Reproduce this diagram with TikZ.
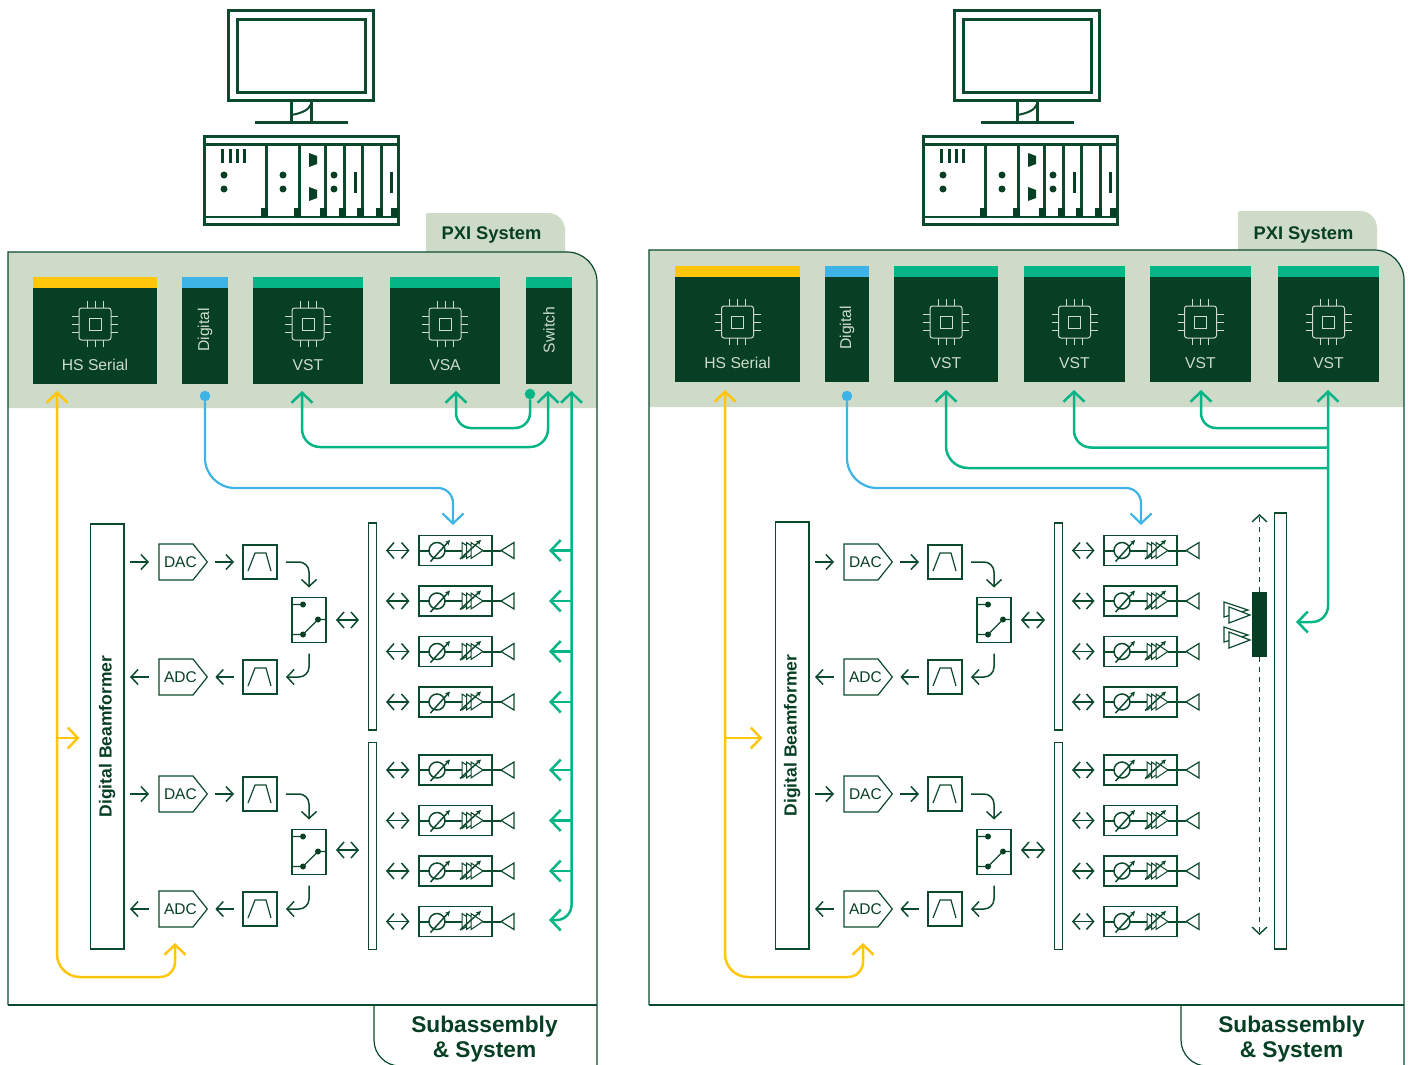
\documentclass[tikz,border=0pt]{standalone}
\usepackage{fontspec}
\setmainfont{Liberation Sans}
\usetikzlibrary{arrows.meta,calc,shapes.symbols}
\definecolor{pineDark}{HTML}{063F23}
\definecolor{pineLine}{HTML}{0B4A2C}
\definecolor{bandGreen}{HTML}{CEDBC9}
\definecolor{busGreen}{HTML}{05B586}
\definecolor{busBlue}{HTML}{3DB3E6}
\definecolor{busYellow}{HTML}{FFC60B}
\newcommand{\pentlabel}[1]{\makebox[34pt][l]{\hspace{5pt}#1}}
\tikzset{
  chipicon/.pic={
    \draw[bandGreen,line width=1pt,rounded corners=2.5pt] (-16,-16) rectangle (16,16);
    \draw[bandGreen,line width=1pt] (-6,-6) rectangle (6,6);
    \foreach \s in {-8,0,8}{
      \draw[bandGreen,line width=1pt] (\s,-23) -- (\s,-16) (\s,16) -- (\s,23) (-23,\s) -- (-16,\s) (16,\s) -- (23,\s);
    }
  },
  monitoricon/.pic={
    \draw[pineLine,line width=3pt] (228.5,10.5) rectangle (373.5,100.5);
    \draw[pineLine,line width=3pt] (237.5,19.5) rectangle (365.5,92.5);
    \draw[pineLine,line width=3pt] (291.5,102) -- (291.5,122) (311,102) -- (311,122);
    \draw[pineLine,line width=2pt] (291.5,115) .. controls (302,113) and (309,110) .. (311,104);
    \draw[pineLine,line width=3pt] (255,122.5) -- (348,122.5);
  },
  rackicon/.pic={
    \draw[pineLine,line width=2.5pt] (204.5,136.5) rectangle (398.5,224.5);
    \draw[pineLine,line width=2.5pt] (205,144.5) -- (398,144.5) (205,217) -- (398,217);
    \foreach \x in {266,299,325,344,362,381}{
      \draw[pineLine,line width=3pt] (\x,144) -- (\x,217);
    }
    \foreach \x in {266,299,325,344,362,381,396.5}{
      \fill[pineDark] (\x-5.5,208) rectangle (\x+1.5,217);
    }
    \foreach \x in {222,230,237,244}{
      \fill[pineDark] (\x-1.5,149) rectangle (\x+1.5,163);
    }
    \foreach \x in {224,283,334}{
      \fill[pineDark] (\x,175) circle (3.5pt) (\x,189) circle (3.5pt);
    }
    \foreach \x in {355,391}{
      \fill[pineDark] (\x-1.5,172) rectangle (\x+1.5,193);
    }
    \foreach \y in {153,187}{
      \fill[pineDark] (309,\y) -- (317,\y+3) -- (317,\y+11) -- (309,\y+14) -- cycle;
    }
  },
  bandpass/.pic={
    \draw[pineLine,line width=1.2pt] (-12,9) -- (-5,-9) -- (6,-9) -- (11,9);
  },
  switchicon/.pic={
    \draw[pineLine,line width=1.2pt] (-17,-15.5) -- (-6,-15.5) (-17,14.5) -- (-6,14.5) -- (9,-0.5) -- (17,-0.5);
    \fill[pineDark] (-6,-15.5) circle (3pt) (-6,14.5) circle (3pt) (9,-0.5) circle (3pt);
  },
  phasechain/.pic={
    \draw[pineLine,line width=2pt] (-36.5,0) -- (-26.5,0) (-10.5,0) -- (7,0) (27.5,0) -- (45.5,0);
    \draw[pineLine,line width=1.5pt] (-18.5,0) circle (8pt);
    \foreach \s in {6.5,11,15.5}{
      \draw[pineLine,line width=1pt,fill=white] (\s,-8) -- (\s+12,0) -- (\s,8) -- cycle;
    }
    \draw[pineLine,line width=1.5pt,-{Stealth[length=5pt,width=5pt]}] (-25,11) -- (-5.5,-10.5);
    \draw[pineLine,line width=1.5pt,-{Stealth[length=5pt,width=5pt]}] (4.5,8.5) -- (25.5,-10.5);
    \draw[pineLine,line width=1.2pt] (45.5,0) -- (58.5,-8) -- (58.5,8) -- cycle;
  },
  hornpair/.pic={
    \draw[pineLine,line width=1.2pt,fill=white] (-5,-5) -- (-5,10) -- (19,3) -- cycle;
    \draw[pineLine,line width=1.2pt,fill=white] (0,0) -- (0,16) -- (21,8) -- cycle;
  }
}
\begin{document}
\begin{tikzpicture}[x=1pt,y=-1pt,
    every node/.style={inner sep=0pt,outer sep=0pt,text=pineDark},
    modbox/.style={fill=pineDark},
    headbox/.style={minimum height=11pt},
    modtext/.style={text=bandGreen,font=\fontsize{15.7}{18}\selectfont},
    tabtext/.style={font=\fontsize{18.3}{20}\selectfont\bfseries},
    subtext/.style={align=center,font=\fontsize{22.7}{25}\selectfont\bfseries},
    bfbox/.style={draw=pineLine,line width=1.2pt,minimum width=33.5pt},
    bftext/.style={rotate=90,font=\fontsize{17.5}{18}\selectfont\bfseries},
    pentbox/.style={draw=pineLine,line width=1.2pt,signal,signal to=east,signal pointer angle=103,minimum height=36pt,font=\fontsize{15.5}{18}\selectfont},
    fltbox/.style={draw=pineLine,line width=1.5pt,minimum width=34pt,minimum height=34pt},
    swbox/.style={draw=pineLine,line width=1.2pt,minimum width=34pt,minimum height=45pt},
    barbox/.style={draw=pineLine,line width=1.2pt,minimum width=8pt},
    rowbox/.style={draw=pineLine,line width=1.2pt,minimum width=73pt,minimum height=30pt},
    busdot/.style={circle,minimum size=10.5pt},
    sigline/.style={pineLine,line width=1.5pt,>={Straight Barb[length=7pt,width=15pt]}},
    dblline/.style={pineLine,line width=1.5pt,<->,>={Straight Barb[length=7pt,width=16pt]}},
    greenbus/.style={busGreen,line width=2.5pt,>={Straight Barb[length=10pt,width=21pt]}},
    bluebus/.style={busBlue,line width=2.2pt,>={Straight Barb[length=10pt,width=21pt]}},
    yellowbus/.style={busYellow,line width=2.5pt,>={Straight Barb[length=10pt,width=21pt]}}]
  \useasboundingbox (0,0) rectangle (1408,1065);

  \pic at (0,0) {monitoricon};
  \pic at (0,0) {rackicon};
  \pic at (726,0) {monitoricon};
  \pic at (719,0) {rackicon};

  \fill[bandGreen] (8,408) -- (8,252) [rounded corners=30pt] -- (597,252) [sharp corners] -- (597,408) -- cycle;
  \fill[bandGreen] (649,407) -- (649,250) [rounded corners=30pt] -- (1404,250) [sharp corners] -- (1404,407) -- cycle;
  \fill[bandGreen] (426,252) [rounded corners=2pt] -- (426,213) [rounded corners=17pt] -- (565,213) [sharp corners] -- (565,252) -- cycle;
  \fill[bandGreen] (1238,250) [rounded corners=2pt] -- (1238,211) [rounded corners=17pt] -- (1377,211) [sharp corners] -- (1377,250) -- cycle;
  \draw[pineLine,line width=1.2pt] (8,1005) -- (8,252) [rounded corners=30pt] -- (597,252) [sharp corners] -- (597,1065);
  \draw[pineLine,line width=1.2pt] (649,1005) -- (649,250) [rounded corners=30pt] -- (1404,250) [sharp corners] -- (1404,1065);
  \draw[pineLine,line width=1.2pt] (8,1005) -- (597,1005) (649,1005) -- (1404,1005);
  \draw[pineLine,line width=1.2pt] (374,1005) [rounded corners=26pt] -- (374,1066) -- (400,1066);
  \draw[pineLine,line width=1.2pt] (1181,1005) [rounded corners=26pt] -- (1181,1066) -- (1207,1066);
  \node[tabtext] (tabL) at (491.5,235) {PXI System};
  \node[tabtext] (tabR) at (1303.5,235) {PXI System};
  \node[subtext] (subL) at (484.5,1039) {Subassembly\\\& System};
  \node[subtext] (subR) at (1291.5,1039) {Subassembly\\\& System};

  \foreach \nm/\cx/\wid/\col/\lab/\by/\hgt in {%
    hsL/95/124/busYellow/HS Serial/288/96,
    vstL/308/110/busGreen/VST/288/96,
    vsaL/445/110/busGreen/VSA/288/96,
    hsR/737.5/125/busYellow/HS Serial/277/105,
    vstA/946/104/busGreen/VST/277/105,
    vstB/1074.5/101/busGreen/VST/277/105,
    vstC/1200.5/101/busGreen/VST/277/105,
    vstD/1328.5/101/busGreen/VST/277/105}{%
    \node[modbox,minimum width=\wid,minimum height=\hgt,anchor=north] (\nm) at (\cx,\by) {};
    \node[headbox,fill=\col,minimum width=\wid,anchor=south] (\nm-head) at (\nm.north) {};
    \pic at ($(\nm.south)+(0,-60)$) {chipicon};
    \node[modtext] (\nm-text) at ($(\nm.south)+(0,-19)$) {\lab};
  }
  \foreach \nm/\cx/\wid/\col/\lab/\by/\hgt in {%
    digL/205/46/busBlue/Digital/288/96,
    swiL/549/46/busGreen/Switch/288/96,
    digR/847/44/busBlue/Digital/277/105}{%
    \node[modbox,minimum width=\wid,minimum height=\hgt,anchor=north] (\nm) at (\cx,\by) {};
    \node[headbox,fill=\col,minimum width=\wid,anchor=south] (\nm-head) at (\nm.north) {};
    \node[modtext,rotate=90] (\nm-text) at ($(\nm.south)+(0,-54)$) {\lab};
  }

  \foreach \p/\dx/\bfc/\bfh/\bx in {L/0/736.5/425/0,R/685/735.5/427/1}{
    \begin{scope}[shift={(\dx,0)}]
      \node[bfbox,minimum height=\bfh] (bf\p) at (107.25,\bfc) {};
      \node[bftext] (bfText\p) at (bf\p) {Digital Beamformer};
      \foreach \blk/\sy/\ry/\ay in {A/0/0/620,B/232/219.5/850}{
        \node[pentbox,anchor=west] (dac\blk\p) at (159,562+\sy) {\pentlabel{DAC}};
        \node[pentbox,anchor=west] (adc\blk\p) at (159,677+\sy) {\pentlabel{ADC}};
        \node[fltbox] (fltT\blk\p) at (260,562+\sy) {};
        \node[fltbox] (fltB\blk\p) at (260,677+\sy) {};
        \pic at (fltT\blk\p) {bandpass};
        \pic at (fltB\blk\p) {bandpass};
        \node[swbox] (sw\blk\p) at (309,620+\sy) {};
        \pic at (sw\blk\p) {switchicon};
        \node[barbox,minimum height=207pt] (bar\blk\p) at (372.5+\bx,626.5+\ry) {};
        \coordinate (swPort\blk\p) at (326,\ay);
        \draw[sigline,->,shorten <=6pt,shorten >=10pt] (bf\p.east |- dac\blk\p.west) -- (dac\blk\p.west);
        \draw[sigline,->,shorten <=8pt,shorten >=9pt] (dac\blk\p.east) -- (fltT\blk\p.west);
        \draw[sigline,->,shorten <=10pt,shorten >=6pt] (adc\blk\p.west) -- (bf\p.east |- adc\blk\p.west);
        \draw[sigline,->,shorten <=9pt,shorten >=8pt] (fltB\blk\p.west) -- (adc\blk\p.east);
        \draw[sigline,->,rounded corners=10pt,shorten <=9pt,shorten >=10pt] (fltT\blk\p.east) -| (sw\blk\p.north);
        \draw[sigline,->,rounded corners=10pt,shorten <=11pt,shorten >=9pt] (sw\blk\p.south) |- (fltB\blk\p.east);
        \draw[dblline,shorten <=10pt,shorten >=9.5pt] (swPort\blk\p) -- (swPort\blk\p -| bar\blk\p.west);
        \foreach \n/\y in {1/550.5,2/601,3/651.5,4/702}{
          \node[rowbox] (row\n\blk\p) at (455.5,\y+\ry) {};
          \pic at (row\n\blk\p) {phasechain};
          \draw[dblline,shorten <=9.5pt,shorten >=9.5pt] (bar\blk\p.east |- row\n\blk\p.west) -- (row\n\blk\p.west);
        }
      }
    \end{scope}
  }

  \node[busdot,fill=busBlue] (digOutL) at (205,396) {};
  \node[busdot,fill=busBlue] (digOutR) at (847,396) {};
  \coordinate (bfTipL) at (453,525);
  \coordinate (bfTipR) at (1141,525);
  \draw[bluebus,->] (digOutL) [rounded corners=30pt] -- ++(0,92) [rounded corners=15pt] -| (bfTipL);
  \draw[bluebus,->] (digOutR) [rounded corners=30pt] -- ++(0,92) [rounded corners=15pt] -| (bfTipR);

  \coordinate (hsTipL) at (57,391);
  \coordinate (hsTipR) at (725,390);
  \coordinate (adcTipL) at (175,943);
  \coordinate (adcTipR) at (863,943);
  \coordinate (hsTapL) at (57,738);
  \coordinate (hsTapR) at (725,738);
  \draw[yellowbus,<->] (hsTipL) [rounded corners=23pt] -- ++(0,586) [rounded corners=15pt] -| (adcTipL);
  \draw[yellowbus,<->] (hsTipR) [rounded corners=23pt] -- ++(0,587) [rounded corners=15pt] -| (adcTipR);
  \draw[yellowbus,->,shorten >=11pt] (hsTapL) -- (hsTapL -| bfL.west);
  \draw[yellowbus,->,shorten >=13pt] (hsTapR) -- (hsTapR -| bfR.west);

  \coordinate (vsaTip) at (456,391);
  \coordinate (vstTip) at (302,391);
  \coordinate (swiTip) at (548,391);
  \coordinate (busTopL) at (571.5,391);
  \coordinate (busEndL) at (549,920);
  \node[busdot,fill=busGreen] (swiOut) at (530,394) {};
  \draw[greenbus,<-,rounded corners=15pt] (vsaTip) -- ++(0,37) -| (swiOut);
  \draw[greenbus,<->,rounded corners=18pt] (vstTip) -- ++(0,56) -| (swiTip);
  \draw[greenbus,<->,rounded corners=15pt] (busTopL) |- (busEndL);
  \foreach \blk/\n in {A/1,A/2,A/3,A/4,B/1,B/2,B/3}{
    \draw[greenbus,->] (busTopL |- row\n\blk L.east) -- ++(-22.5,0);
  }

  \coordinate (busTopR) at (1328,390);
  \coordinate (busEndR) at (1296,622);
  \draw[greenbus,<->,rounded corners=16pt] (busTopR) |- (busEndR);
  \foreach \x/\y/\rad in {1201/428/15,1074/447.5/17,946/468/22}{
    \coordinate (vstTip\x) at (\x,390);
    \draw[greenbus,<-,rounded corners=\rad pt] (vstTip\x) |- (busTopR |- 0,\y);
  }

  \node[draw=pineLine,line width=1.2pt,minimum width=12pt,minimum height=436pt] (antBar) at (1280.5,731) {};
  \node[fill=pineDark,minimum width=15pt,minimum height=65pt] (antBlock) at (1259.5,624.5) {};
  \coordinate (antTop) at (1259.5,514);
  \coordinate (antEnd) at (1259.5,935);
  \draw[sigline,->,line width=1.4pt,dash pattern=on 5pt off 5pt] (antBlock.north) -- (antTop);
  \draw[sigline,->,line width=1.4pt,dash pattern=on 5pt off 5pt] (antBlock.south) -- (antEnd);
  \pic at (1229,607) {hornpair};
  \pic at (1229,632) {hornpair};
\end{tikzpicture}
\end{document}
